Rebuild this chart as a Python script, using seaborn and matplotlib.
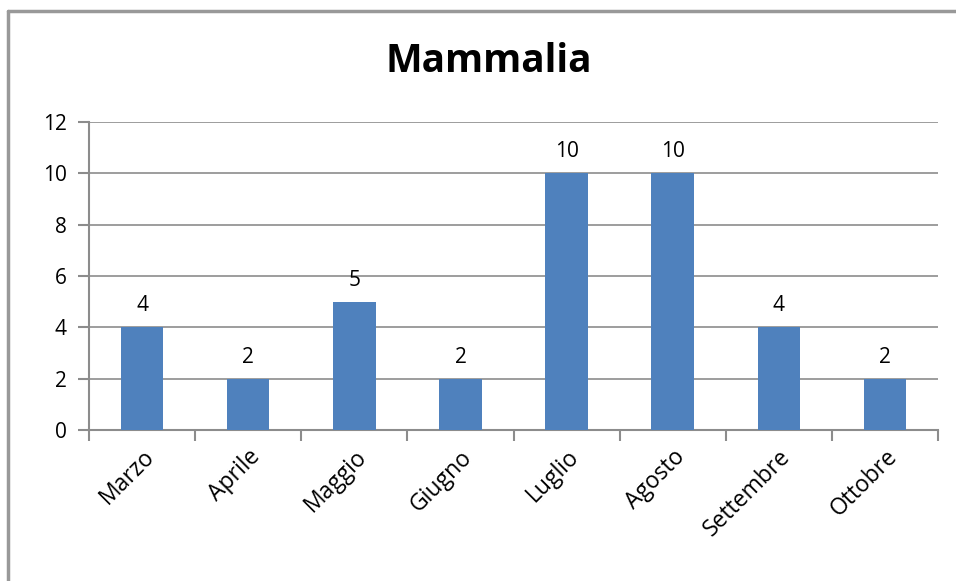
import pandas as pd
import numpy as np
import matplotlib.pyplot as plt
import seaborn as sns
from matplotlib.lines import Line2D

months = ['Marzo', 'Aprile', 'Maggio', 'Giugno', 'Luglio', 'Agosto', 'Settembre', 'Ottobre']
counts = [4, 2, 5, 2, 10, 10, 4, 2]

df = pd.DataFrame({'Mese': months, 'Numero': counts})

sns.set_style('white')
plt.rcParams['font.family'] = ['Open Sans', 'DejaVu Sans']
plt.rcParams['text.color'] = 'black'
plt.rcParams['xtick.color'] = 'black'
plt.rcParams['ytick.color'] = 'black'

fig = plt.figure(figsize=(9.56, 5.81), dpi=100)
ax = fig.add_axes([89 / 956, 1 - 430 / 581, (938 - 89) / 956, (430 - 122) / 581])

sns.barplot(data=df, x='Mese', y='Numero', color='#4F81BD', width=0.4,
            saturation=1, linewidth=0, ax=ax, zorder=3)

# value labels
for i, v in enumerate(counts):
    ax.annotate(str(v), (i, v), xytext=(0, 8), textcoords='offset points',
                ha='center', va='bottom', fontsize=15)

ax.set_xlim(-0.5, len(months) - 0.5)
ax.set_ylim(0, 12)
ax.set_yticks(range(0, 13, 2))
ax.grid(axis='y', color='#8c8c8c', linewidth=1.2, zorder=0)
ax.set_xlabel('')
ax.set_ylabel('')

# category boundary ticks on x axis
ax.set_xticks(np.arange(-0.5, len(months), 1), minor=True)
ax.tick_params(axis='x', which='minor', bottom=True, length=8, width=1.5,
               color='#8c8c8c', direction='out')
ax.tick_params(axis='x', which='major', bottom=False, length=0, pad=11)
ax.set_xticks(range(len(months)))
ax.set_xticklabels(months, rotation=45, ha='right', rotation_mode='anchor', fontsize=16.5)
ax.tick_params(axis='y', left=True, length=8, width=1.5, color='#8c8c8c',
               direction='out', labelsize=15, pad=8, labelcolor='black')

for side in ['top', 'right']:
    ax.spines[side].set_visible(False)
for side in ['left', 'bottom']:
    ax.spines[side].set_color('#8c8c8c')
    ax.spines[side].set_linewidth(1.5)

fig.text(489 / 956, 1 - 62 / 581, 'Mammalia', ha='center', va='center',
         fontsize=28, fontweight='bold', color='black')

# chart frame
fig.add_artist(Line2D([8 / 956, 8 / 956], [0, 1 - 11 / 581], color='#999999', linewidth=2.5,
                      transform=fig.transFigure))
fig.add_artist(Line2D([8 / 956, 1], [1 - 11 / 581, 1 - 11 / 581], color='#999999', linewidth=2.5,
                      transform=fig.transFigure))

fig.savefig('out.png', dpi=100)
